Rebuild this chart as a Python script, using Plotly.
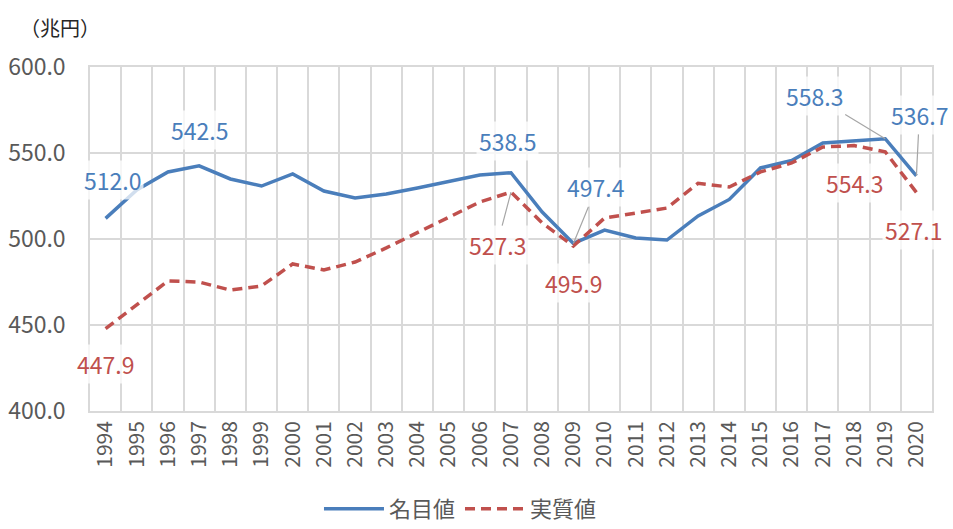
import plotly.graph_objects as go

years = [str(y) for y in range(1994, 2021)]

# nominal GDP (trillion yen)
nominal = [512.0, 528.5, 539.0, 542.5, 534.9, 530.8, 537.8, 527.9, 523.8, 526.2,
           529.7, 533.7, 537.2, 538.5, 515.7, 497.4, 505.2, 500.6, 499.4, 513.4,
           523.0, 541.3, 545.6, 555.8, 557.0, 558.3, 536.7]

# real GDP (trillion yen)
real = [447.9, 462.0, 475.6, 475.0, 470.3, 472.7, 485.5, 482.0, 486.6, 494.8,
        503.8, 512.8, 521.5, 527.3, 509.3, 495.9, 512.2, 515.1, 518.0, 532.4,
        530.2, 539.0, 544.2, 553.5, 554.3, 550.7, 527.1]

blue = '#4a7ebb'
red = '#c0504d'
grey_txt = '#595959'
grid = '#d9d9d9'
font_family = 'Noto Sans CJK JP'

fig = go.Figure()
fig.add_trace(go.Scatter(x=years, y=nominal, name='名目値', mode='lines',
                         line=dict(color=blue, width=3.5)))
fig.add_trace(go.Scatter(x=years, y=real, name='実質値', mode='lines',
                         line=dict(color=red, width=3.5, dash='10px,6px')))

# data labels: (year, value, color, xshift, yshift, arrow ax, arrow ay)
labels = [
    ('1994', 512.0, blue, 7, 38, None, None),
    ('1997', 542.5, blue, 0, 36, None, None),
    ('2007', 538.5, blue, -4, 32, None, None),
    ('2007', 527.3, red, None, None, -14, 53),
    ('2009', 497.4, blue, None, None, 23, -56),
    ('2009', 495.9, red, 0, -37, None, None),
    ('1994', 447.9, red, 0, -35, None, None),
    ('2019', 558.3, blue, None, None, -71, -43),
    ('2020', 536.7, blue, None, None, 3, -61),
    ('2018', 554.3, red, 0, -37, None, None),
    ('2020', 527.1, red, -3, -38, None, None),
]

annotations = []
for yr, val, col, xs, ys, ax, ay in labels:
    # category axis: position by category index
    a = dict(x=years.index(yr), y=val, xref='x', yref='y', text=f'{val:.1f}',
             font=dict(family=font_family, size=23, color=col),
             bgcolor='rgba(255,255,255,0.75)', borderpad=2)
    if ax is None:
        a.update(showarrow=False, xshift=xs, yshift=ys)
    else:
        a.update(showarrow=True, arrowhead=0, arrowwidth=1.2, arrowcolor='#a6a6a6',
                 ax=ax, ay=ay, standoff=0)
    annotations.append(a)

annotations.append(dict(x=-0.085, y=1.116, xref='paper', yref='paper', text='（兆円）',
                        showarrow=False, xanchor='left', yanchor='middle',
                        font=dict(family=font_family, size=20, color='#262626')))

fig.update_layout(
    width=953, height=529,
    margin=dict(l=90, r=21, t=67, b=118),
    plot_bgcolor='white', paper_bgcolor='white',
    font=dict(family=font_family, color=grey_txt),
    showlegend=True,
    legend=dict(orientation='h', x=0.44, xanchor='center',
                yref='container', y=0.038, yanchor='middle',
                font=dict(size=22, color=grey_txt), itemwidth=60, tracegroupgap=0),
    annotations=annotations,
    xaxis=dict(type='category', range=[-0.5, 26.5], tickson='boundaries',
               showgrid=True, gridcolor=grid, gridwidth=1.5, automargin=False,
               showline=True, linecolor=grid, linewidth=1.5, mirror=True,
               ticks='', tickangle=-90, tickfont=dict(size=21, color=grey_txt)),
    yaxis=dict(range=[400, 600], dtick=50, tickformat='.1f', automargin=False,
               showgrid=True, gridcolor=grid, gridwidth=1.5, zeroline=False,
               showline=True, linecolor=grid, linewidth=1.5, mirror=True,
               ticks='', ticklabelstandoff=18, tickfont=dict(size=23, color=grey_txt)),
)

fig.write_html('out.html', config={'displayModeBar': False},
               post_script="document.body.style.margin='0';")
